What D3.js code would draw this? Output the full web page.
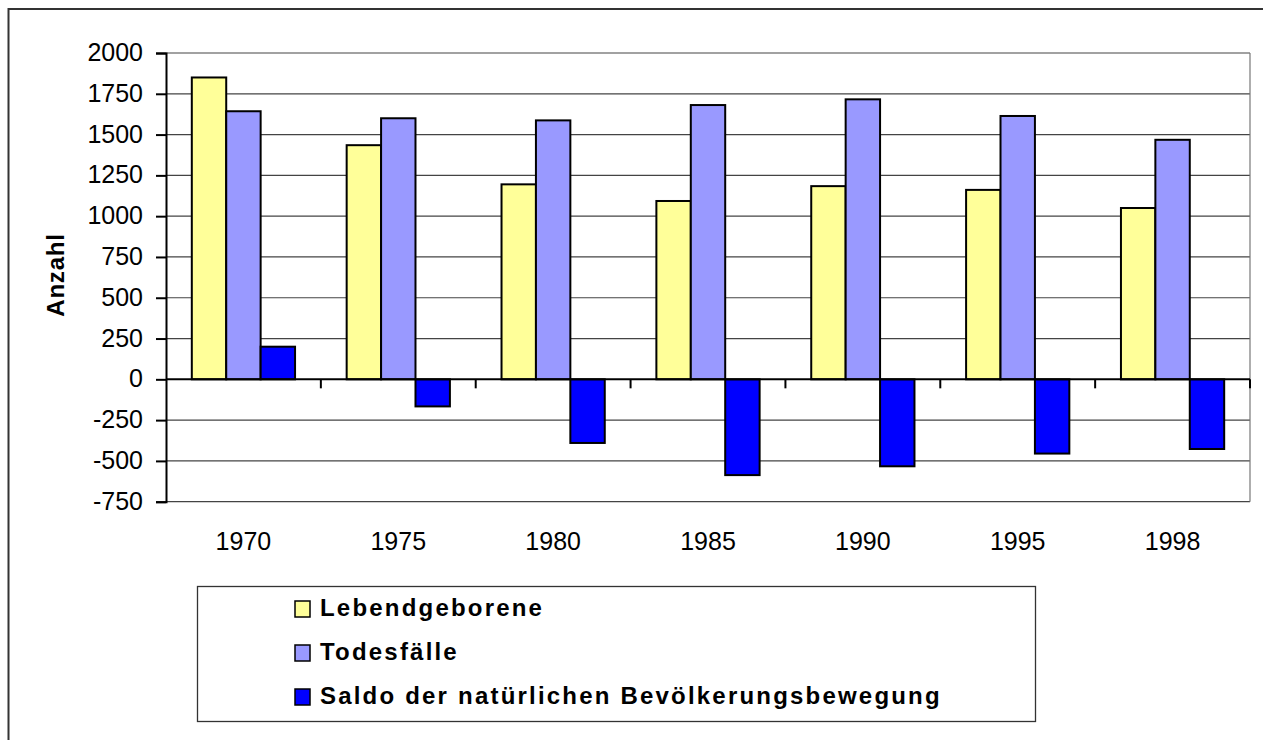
<!DOCTYPE html>
<html>
<head>
<meta charset="utf-8">
<script src="https://cdn.jsdelivr.net/npm/d3@7"></script>
<style>
  body { margin: 0; background: #fff; }
  text { font-family: "Liberation Sans", Arial, sans-serif; fill: #000; }
</style>
</head>
<body>
<script>
'use strict';

// chart data
const years = ['1970', '1975', '1980', '1985', '1990', '1995', '1998'];
const seriesNames = ['Lebendgeborene', 'Todesfälle', 'Saldo der natürlichen Bevölkerungsbewegung'];
const births = [1850, 1435, 1195, 1093, 1184, 1161, 1050];
const deaths = [1643, 1600, 1587, 1681, 1716, 1614, 1468];
const saldo = [200, -166, -390, -587, -533, -455, -427];
const yTicks = [2000, 1750, 1500, 1250, 1000, 750, 500, 250, 0, -250, -500, -750];
const colors = ['#ffff99', '#9999ff', '#0000ff'];

(function() {
  const W = 1263, H = 740;
  const plot = { left: 166, right: 1250, top: 53, bottom: 501.7 };

  const svg = d3.select('body').append('svg')
    .attr('width', W)
    .attr('height', H);

  // outer chart border (runs off the right and bottom)
  svg.append('rect')
    .attr('x', 8.5).attr('y', 9)
    .attr('width', 1300).attr('height', 800)
    .attr('fill', 'none')
    .attr('stroke', '#333')
    .attr('stroke-width', 2);

  const y = d3.scaleLinear()
    .domain([-750, 2000])
    .range([plot.bottom, plot.top]);

  const x0 = d3.scaleBand()
    .domain(years)
    .range([plot.left, plot.right])
    .paddingInner(1 / 3)
    .paddingOuter(1 / 6);

  const x1 = d3.scaleBand()
    .domain([0, 1, 2])
    .range([0, x0.bandwidth()]);

  // gridlines
  svg.append('g')
    .selectAll('line')
    .data(yTicks.filter(t => t !== 0))
    .enter().append('line')
      .attr('x1', plot.left).attr('x2', plot.right)
      .attr('y1', d => y(d)).attr('y2', d => y(d))
      .attr('stroke', '#444')
      .attr('stroke-width', 1.2);

  // right edge of plot area
  svg.append('line')
    .attr('x1', plot.right).attr('x2', plot.right)
    .attr('y1', plot.top).attr('y2', plot.bottom)
    .attr('stroke', '#777')
    .attr('stroke-width', 1.2);

  // bars
  const rows = years.map((yr, i) => ({ year: yr, values: [births[i], deaths[i], saldo[i]] }));
  const groups = svg.append('g')
    .selectAll('g')
    .data(rows)
    .enter().append('g')
      .attr('transform', d => 'translate(' + x0(d.year) + ',0)');

  groups.selectAll('rect')
    .data(d => d.values.map((v, k) => ({ k: k, v: v })))
    .enter().append('rect')
      .attr('x', d => x1(d.k))
      .attr('width', x1.bandwidth())
      .attr('y', d => y(Math.max(0, d.v)))
      .attr('height', d => Math.abs(y(d.v) - y(0)))
      .attr('fill', d => colors[d.k])
      .attr('stroke', '#000')
      .attr('stroke-width', 2);

  // zero line with category ticks
  svg.append('line')
    .attr('x1', plot.left).attr('x2', plot.right)
    .attr('y1', y(0)).attr('y2', y(0))
    .attr('stroke', '#000')
    .attr('stroke-width', 2);

  svg.append('g')
    .selectAll('line')
    .data(years)
    .enter().append('line')
      .attr('x1', d => x0(d) + x0.bandwidth() + x0.step() / 6)
      .attr('x2', d => x0(d) + x0.bandwidth() + x0.step() / 6)
      .attr('y1', y(0)).attr('y2', y(0) + 9)
      .attr('stroke', '#000')
      .attr('stroke-width', 2);

  // y axis
  const yAxis = d3.axisLeft(y)
    .tickValues(yTicks)
    .tickSize(10)
    .tickPadding(13)
    .tickFormat(d => String(d));
  const yg = svg.append('g')
    .attr('transform', 'translate(' + plot.left + ',0)')
    .call(yAxis);
  yg.select('.domain').attr('stroke', '#000').attr('stroke-width', 2);
  yg.selectAll('.tick line').attr('stroke', '#000').attr('stroke-width', 2);
  yg.selectAll('.tick text')
    .attr('font-family', '"Liberation Sans", Arial, sans-serif')
    .attr('font-size', 25)
    .attr('fill', '#000')
    .attr('dy', '0.3em');

  // x labels
  svg.append('g')
    .selectAll('text')
    .data(years)
    .enter().append('text')
      .attr('x', d => x0(d) + x0.bandwidth() / 2)
      .attr('y', 550)
      .attr('text-anchor', 'middle')
      .style('font-size', '25px')
      .text(d => d);

  // y axis title
  svg.append('text')
    .attr('transform', 'translate(64,275) rotate(-90)')
    .attr('text-anchor', 'middle')
    .style('font-size', '24px')
    .style('font-weight', 'bold')
    .style('letter-spacing', '0.8px')
    .text('Anzahl');

  // legend
  const legend = svg.append('g');
  legend.append('rect')
    .attr('x', 197.5).attr('y', 586.5)
    .attr('width', 838).attr('height', 135)
    .attr('fill', '#fff')
    .attr('stroke', '#333')
    .attr('stroke-width', 1.3);

  const items = legend.selectAll('g')
    .data(seriesNames)
    .enter().append('g')
      .attr('transform', (d, i) => 'translate(0,' + (i * 44) + ')');

  items.append('rect')
    .attr('x', 295).attr('y', 601)
    .attr('width', 15).attr('height', 16)
    .attr('fill', (d, i) => colors[i])
    .attr('stroke', '#000')
    .attr('stroke-width', 1.5);

  items.append('text')
    .attr('x', 320).attr('y', 616)
    .style('font-size', '24px')
    .style('font-weight', 'bold')
    .style('letter-spacing', '2.2px')
    .text(d => d);
})();
</script>
</body>
</html>
